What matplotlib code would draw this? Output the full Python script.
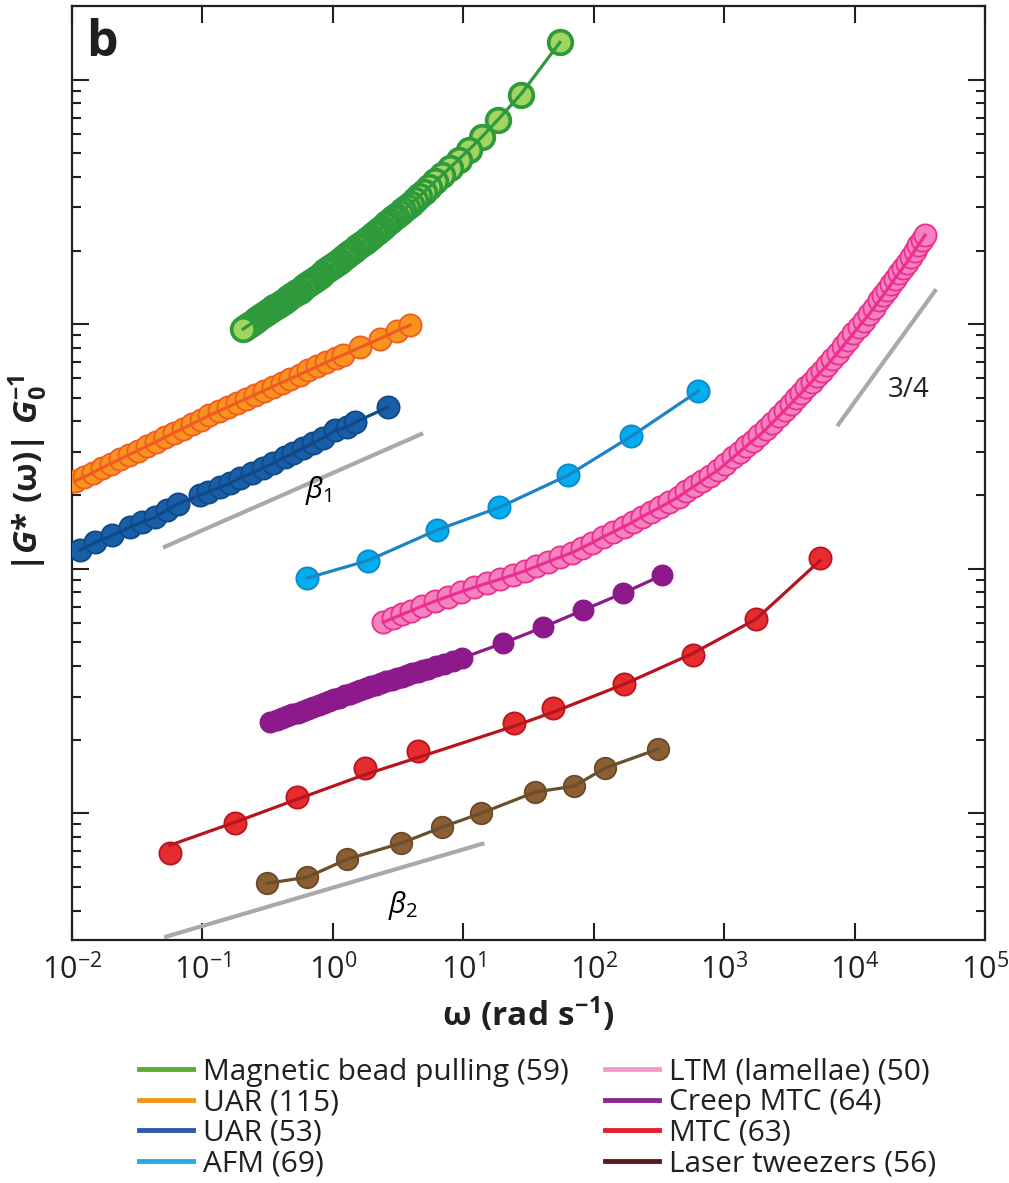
import matplotlib
matplotlib.use("Agg")
import matplotlib.pyplot as plt
from matplotlib.lines import Line2D
from matplotlib.ticker import LogLocator, NullLocator, NullFormatter

plt.rcParams['font.family'] = ['Open Sans', 'DejaVu Sans']
plt.rcParams['mathtext.fontset'] = 'custom'
plt.rcParams['mathtext.rm'] = 'Open Sans'
plt.rcParams['mathtext.it'] = 'Open Sans:italic'
plt.rcParams['mathtext.bf'] = 'Open Sans:bold'
plt.rcParams['mathtext.bfit'] = 'Open Sans:italic:bold'
plt.rcParams['mathtext.default'] = 'regular'

# ---- data (y is |G*|/G0 in arbitrary normalised units) ----
# magnetic bead pulling (59), high frequency first
mbp_w = [55, 27.5, 18.4, 13.8, 11.0, 9.2, 7.9, 6.9, 6.1, 5.5, 5.0, 4.6, 4.25, 3.94, 3.68,
         3.45, 3.25, 3.07, 2.9, 2.76, 2.62, 2.5, 2.38, 2.27, 2.16, 2.06, 1.96, 1.87, 1.78,
         1.69, 1.61, 1.53, 1.45, 1.38, 1.31, 1.25, 1.19, 1.13, 1.07, 1.02, 0.97, 0.92,
         0.875, 0.83, 0.79, 0.75, 0.715, 0.68, 0.645, 0.615, 0.585, 0.555, 0.53, 0.505,
         0.48, 0.455, 0.435, 0.413, 0.393, 0.374, 0.356, 0.339, 0.322, 0.307, 0.292,
         0.278, 0.264, 0.251, 0.239, 0.228, 0.217, 0.205]
mbp_g = [1419, 869, 685, 581, 516, 471, 436, 407, 384, 364, 348, 333, 321, 310, 301,
         293, 285, 278, 271, 265, 259, 254, 248, 243, 238, 233, 228, 223, 218,
         214, 210, 206, 201, 197, 193, 190, 186, 182, 178, 175, 172, 168,
         165, 161, 158, 155, 152, 149, 146, 143, 140, 137, 135, 133,
         130, 128, 126, 123, 121, 119, 117, 115, 113, 111, 109,
         107, 105, 103, 101, 99.3, 97.5, 95.5]

# UAR (115)
uar115_w = [0.0105, 0.0123, 0.0144, 0.0169, 0.0198, 0.0232, 0.0272, 0.0319, 0.0374, 0.0438,
            0.0513, 0.0601, 0.0705, 0.0826, 0.0968, 0.113, 0.133, 0.156, 0.183, 0.214,
            0.251, 0.294, 0.345, 0.404, 0.473, 0.555, 0.650, 0.762, 0.893, 1.05,
            1.20, 1.62, 2.30, 3.11, 3.91]
uar115_g = [22.8, 23.7, 24.7, 25.8, 26.9, 28.0, 29.2, 30.4, 31.7, 33.0,
            34.4, 35.9, 37.4, 39.0, 40.6, 42.4, 44.1, 45.8, 47.6, 49.4,
            51.4, 53.4, 55.5, 57.7, 59.9, 62.2, 64.7, 67.2, 69.8, 72.6,
            74.9, 80.4, 87.3, 93.9, 99.1]

# UAR (53)
uar53_w = [0.0115, 0.0150, 0.0203, 0.0279, 0.0344, 0.0433, 0.0535, 0.0650, 0.0959, 0.110,
           0.136, 0.163, 0.194, 0.240, 0.292, 0.348, 0.430, 0.495, 0.590, 0.705,
           0.841, 1.04, 1.29, 1.48, 2.65]
uar53_g = [11.9, 12.8, 13.7, 14.8, 15.5, 16.2, 17.4, 18.4, 20.0, 20.6,
           21.5, 22.4, 23.5, 24.6, 25.8, 27.0, 28.6, 29.7, 31.1, 32.6,
           34.2, 36.8, 37.9, 39.7, 45.8]

# AFM (69)
afm_w = [0.634, 1.86, 6.30, 18.8, 63.6, 194, 632]
afm_g = [9.15, 10.8, 14.4, 17.8, 24.1, 34.8, 53.2]

# LTM (lamellae) (50)
ltm_w = [2.43, 2.88, 3.39, 3.98, 4.79, 6.03, 7.59, 9.55, 12.0, 15.1, 19.1, 24.0, 29.5,
         36.3, 44.7, 55.0, 67.6, 81.3, 97.7, 117, 141, 170, 200, 234, 275, 324, 380,
         447, 513, 589, 676, 776, 891, 1023, 1175, 1318, 1479, 1660, 1862, 2089, 2344,
         2630, 2951, 3236, 3548, 3890, 4266, 4677, 5129, 5623, 6166, 6761, 7413, 8128,
         8913, 9772, 10720, 11750, 12880, 14130, 15490, 16600, 17780, 19050, 20420,
         21880, 23440, 25120, 26920, 28840, 30900, 32730, 34750]
ltm_g = [6.04, 6.27, 6.50, 6.73, 7.01, 7.36, 7.69, 8.04, 8.38, 8.71, 9.06, 9.42, 9.79,
         10.23, 10.67, 11.14, 11.61, 12.16, 12.79, 13.46, 14.13, 14.86, 15.52, 16.29,
         17.06, 17.86, 18.71, 19.68, 20.70, 21.73, 22.86, 24.04, 25.23, 26.85, 28.58,
         30.13, 31.70, 33.42, 35.16, 37.15, 39.54, 42.07, 44.77, 47.10, 49.66, 52.24,
         55.08, 58.08, 61.24, 64.57, 67.92, 71.94, 76.38, 81.10, 86.10, 91.62, 97.27,
         103.3, 109.6, 116.7, 125.0, 131.5, 138.4, 145.5, 153.5, 161.4, 169.8, 178.6,
         188.8, 199.5, 210.9, 220.3, 231.2]

# Creep MTC (64)
creep_w = [0.330, 0.372, 0.407, 0.447, 0.490, 0.537, 0.589, 0.646, 0.708, 0.776, 0.851,
           0.933, 1.02, 1.12, 1.23, 1.35, 1.48, 1.62, 1.78, 1.95, 2.14, 2.34, 2.57, 2.82,
           3.09, 3.39, 3.72, 4.07, 4.47, 4.90, 5.37, 6.17, 7.08, 8.32, 9.79,
           20.2, 40.9, 83, 168, 335]
creep_g = [2.36, 2.41, 2.45, 2.49, 2.54, 2.58, 2.63, 2.67, 2.72, 2.77, 2.82,
           2.87, 2.92, 2.97, 3.03, 3.08, 3.13, 3.18, 3.24, 3.30, 3.36, 3.40, 3.46, 3.51,
           3.56, 3.61, 3.67, 3.73, 3.78, 3.85, 3.90, 3.99, 4.08, 4.20, 4.31,
           4.96, 5.76, 6.77, 7.94, 9.40]

# MTC (63): points and fitted curve
mtc_w = [0.0565, 0.178, 0.531, 1.77, 4.50, 24.5, 48.8, 171, 578, 1758, 5445]
mtc_g = [0.686, 0.910, 1.16, 1.53, 1.79, 2.33, 2.69, 3.37, 4.43, 6.22, 11.1]
mtc_fit = [0.740, 0.919, 1.14, 1.44, 1.69, 2.27, 2.59, 3.37, 4.51, 6.22, 10.8]

# Laser tweezers (56)
lt_w = [0.313, 0.634, 1.29, 3.34, 6.88, 13.7, 35.5, 70.8, 122, 312]
lt_g = [0.517, 0.547, 0.649, 0.754, 0.877, 1.0, 1.22, 1.29, 1.53, 1.83]

# power-law guide lines
beta1_w, beta1_g = [0.0499, 4.92], [12.2, 35.8]
beta2_w, beta2_g = [0.0508, 14.5], [0.311, 0.754]
slope34_w, slope34_g = [7360, 42300], [38.3, 139]

x_ticks = [1e-2, 1e-1, 1e0, 1e1, 1e2, 1e3, 1e4, 1e5]

legend_labels = ['Magnetic bead pulling (59)', 'UAR (115)', 'UAR (53)', 'AFM (69)',
                 'LTM (lamellae) (50)', 'Creep MTC (64)', 'MTC (63)', 'Laser tweezers (56)']
legend_colors = ['#5eab34', '#f7941d', '#2b5ca8', '#27aae1',
                 '#f59ac8', '#8b2a91', '#e51f2b', '#5a1a1e']

fig = plt.figure(figsize=(10.09, 11.83), dpi=100)
ax = fig.add_axes([0.0714, 0.2054, 0.9048, 0.7895])
ax.set_xscale('log')
ax.set_yscale('log')


def series(w, g, face, edge, line, ms=16, z=3, fit=None, mew=1.3):
    ax.plot(w, g, ls='none', marker='o', ms=ms, mfc=face, mec=edge, mew=mew, zorder=z)
    ax.plot(w, fit if fit is not None else g, color=line, lw=2.3, zorder=z + 0.5)


series(uar115_w, uar115_g, '#f7941d', '#f15a24', '#f15a24')
series(uar53_w, uar53_g, '#1a5ea8', '#0e4a8a', '#0e4a8a')
series(mbp_w, mbp_g, '#a3d462', '#2e9a3c', '#2e9a3c', ms=17, mew=2.7)
series(afm_w, afm_g, '#00aeef', '#0c87c8', '#1b83c6')
series(ltm_w, ltm_g, '#f482c0', '#ec2f8c', '#ec2f8c')
series(creep_w, creep_g, '#8c1a8b', '#8c1a8b', '#8c1a8b', ms=14.5)
series(mtc_w, mtc_g, '#e52d2f', '#b8141d', '#b8141d', fit=mtc_fit)
series(lt_w, lt_g, '#8b5e34', '#6b4a26', '#6b4f2b', ms=15.5)

for w, g in [(beta1_w, beta1_g), (beta2_w, beta2_g), (slope34_w, slope34_g)]:
    ax.plot(w, g, color='#a7a9ac', lw=3, solid_capstyle='butt', zorder=2)

ax.text(0.77, 20.9, r'$\mathit{\beta}_1$', fontsize=21, ha='center', va='center')
ax.text(3.45, 0.42, r'$\mathit{\beta}_2$', fontsize=21, ha='center', va='center')
ax.text(25800, 53.7, '3/4', fontsize=20, ha='center', va='center', color='#231f20')
ax.text(0.015, 0.987, 'b', transform=ax.transAxes, fontsize=36, fontweight='bold',
        va='top', ha='left', color='#231f20')

ax.set_xlim(1e-2, 1e5)
ax.set_ylim(0.303, 2000)
ax.set_xticks(x_ticks)
ax.xaxis.set_minor_locator(NullLocator())
ax.yaxis.set_major_locator(LogLocator(base=10))
ax.yaxis.set_minor_locator(LogLocator(base=10, subs=[2, 3, 4, 5, 6, 7, 8, 9]))
ax.yaxis.set_major_formatter(NullFormatter())
ax.yaxis.set_minor_formatter(NullFormatter())

ax.tick_params(which='both', direction='in', top=True, right=True, width=1.5,
               color='#231f20', labelsize=22, labelcolor='#231f20', pad=10)
ax.tick_params(which='major', length=12)
ax.tick_params(which='minor', length=6.5)
for s in ax.spines.values():
    s.set_linewidth(1.6)
    s.set_color('#231f20')

ax.set_xlabel(r'$\mathbf{\omega\ (rad\ s^{-1})}$', fontsize=24, labelpad=6, color='#231f20')
ax.set_ylabel(r'$\mathbf{|}\mathbfit{G}\mathbf{*\ (\omega)|\ }\mathbfit{G}_{\mathbf{0}}^{\mathbf{-1}}$',
              fontsize=24, labelpad=6, color='#231f20')

handles = [Line2D([], [], color=c, lw=3.5) for c in legend_colors]
fig.legend(handles, legend_labels, ncol=2, loc='upper left', bbox_to_anchor=(0.138, 0.106),
           frameon=False, fontsize=21.5, handlelength=1.8, handletextpad=0.35,
           columnspacing=1.2, labelspacing=0.05, borderaxespad=0, borderpad=0,
           labelcolor='#231f20')

fig.savefig('out.png', dpi=100)
